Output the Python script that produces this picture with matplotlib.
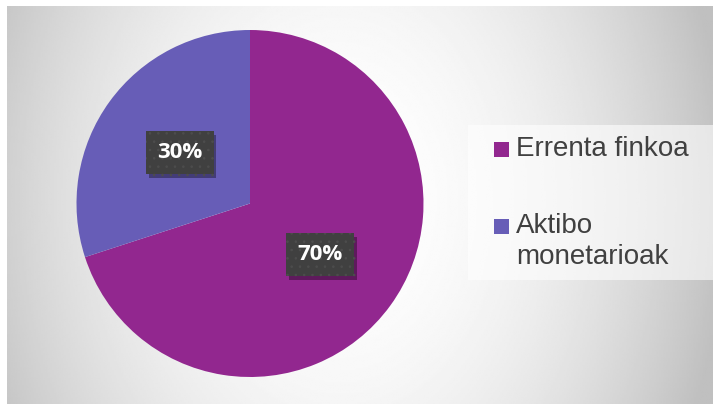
import numpy as np
import matplotlib.pyplot as plt
from matplotlib.patches import Rectangle
import matplotlib.patheffects as pe

# data
labels = ['Errenta finkoa', 'Aktibo\nmonetarioak']
shares = [70, 30]
colors = ['#92278F', '#675DB7']

W, H = 713, 405
fig = plt.figure(figsize=(W / 100, H / 100), dpi=100, facecolor='white')

# radial grey background
bg = fig.add_axes([7 / W, 1 / H, (W - 7) / W, (H - 7) / H])
xx, yy = np.meshgrid(np.linspace(7, W, 400), np.linspace(6, 404, 240))
r2 = ((xx - 340) / 390) ** 2 + ((yy - 200) / 520) ** 2
shade = np.clip(1 - 0.25 * r2, 0.75, 1.0)
bg.imshow(shade, cmap='gray', vmin=0, vmax=1, aspect='auto',
          interpolation='bilinear')
bg.set_axis_off()

# pie
cx, cy, rad = 250, 203.5, 173.5
ax = fig.add_axes([(cx - rad) / W, (H - cy - rad) / H, 2 * rad / W, 2 * rad / H])
wedges, _, autotexts = ax.pie(shares, colors=colors, startangle=90, counterclock=False,
                              autopct='%d%%', pctdistance=0.5,
                              wedgeprops=dict(linewidth=0))
ax.set_xlim(-1, 1)
ax.set_ylim(-1, 1)
ax.set_aspect('equal')

plt.rcParams['hatch.linewidth'] = 0.6
for t in autotexts:
    t.set_color('white')
    t.set_fontsize(16)
    t.set_fontweight('bold')
    t.set_fontfamily('Open Sans')
    t.set_bbox(dict(boxstyle='square,pad=0.5', facecolor='#404040',
                    edgecolor='#4d4d4d', linewidth=0, hatch='..'))
    t.get_bbox_patch().set_path_effects([
        pe.SimplePatchShadow(offset=(2, -3), shadow_rgbFace='#000000', alpha=0.35),
        pe.Normal()])

# legend drawn by hand
fig.patches.append(Rectangle((468 / W, (H - 280) / H), (W - 468) / W, 155 / H,
                             transform=fig.transFigure, facecolor='white',
                             alpha=0.6, linewidth=0))
ys = [149, 226]
for lab, col, y in zip(labels, colors, ys):
    fig.patches.append(Rectangle((494 / W, (H - y - 7.5) / H), 15 / W, 15 / H,
                                 transform=fig.transFigure, facecolor=col,
                                 linewidth=0))
    fig.text(516 / W, (H - y + 13) / H, lab, fontsize=20, color='#404040',
             family='Liberation Sans', va='top', ha='left', linespacing=1.25)

fig.savefig('out.png', dpi=100, facecolor='white')
